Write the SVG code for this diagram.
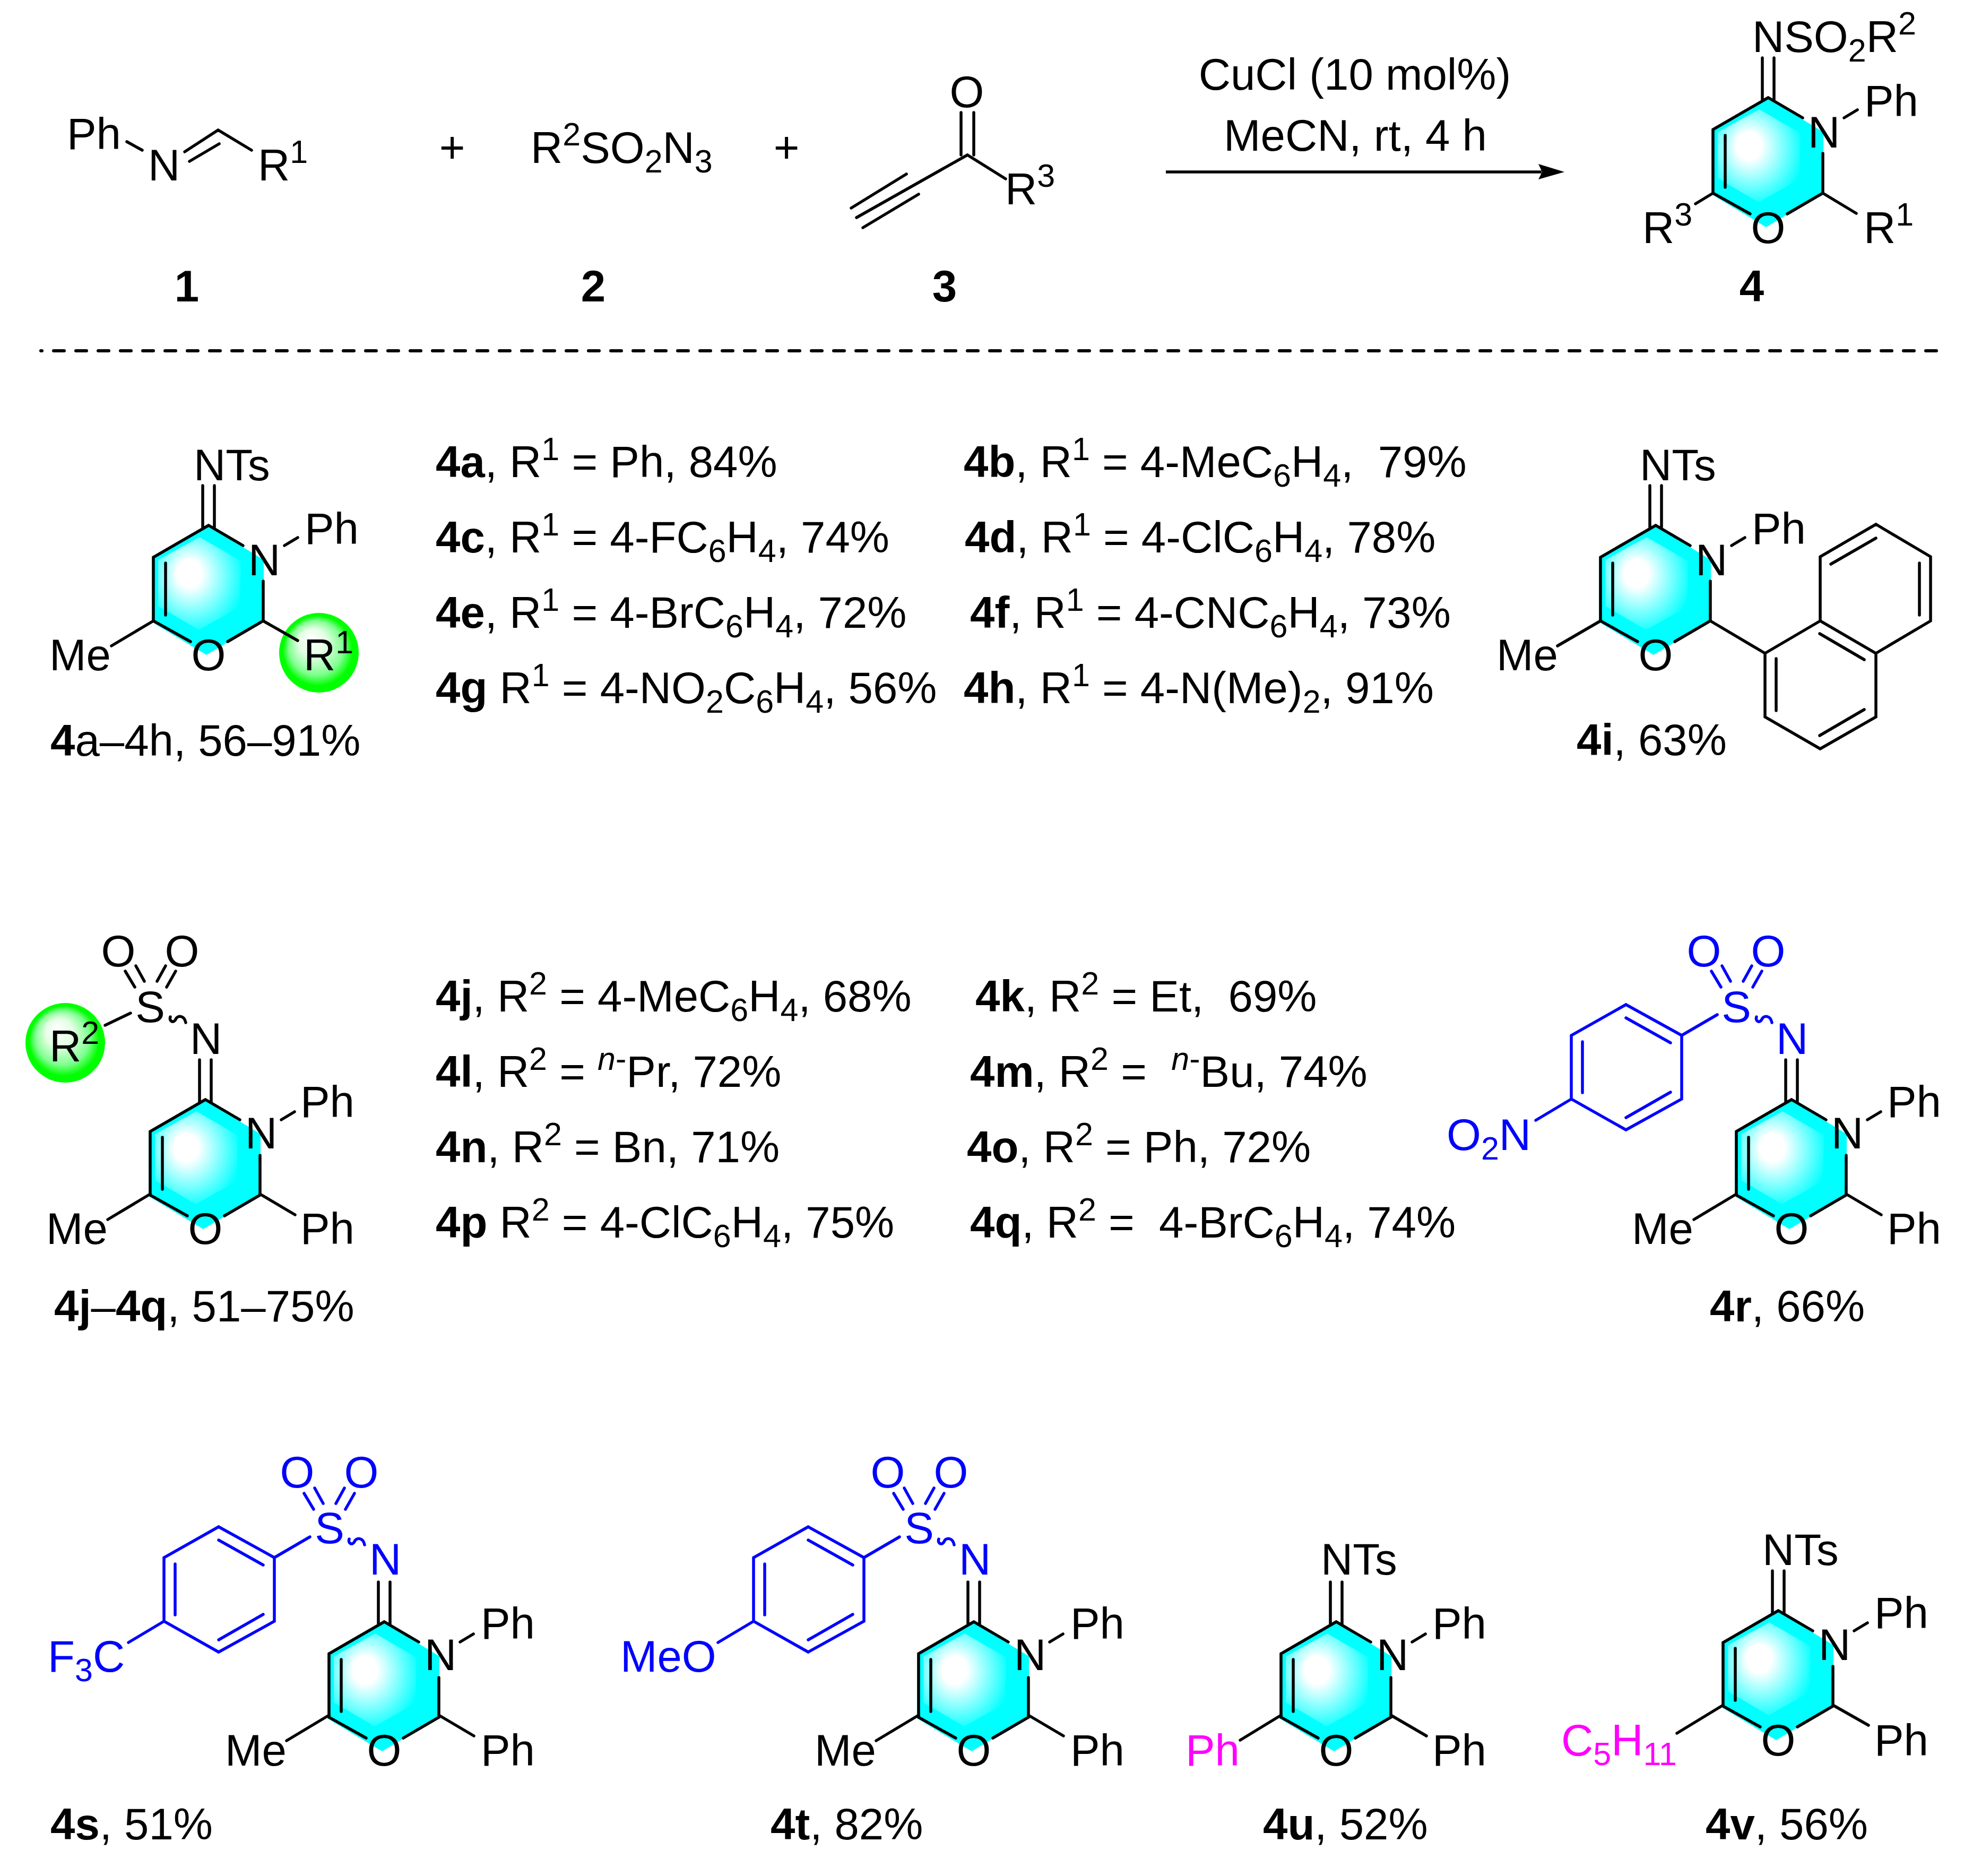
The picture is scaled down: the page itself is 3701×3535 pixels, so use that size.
<svg xmlns="http://www.w3.org/2000/svg" xmlns:xlink="http://www.w3.org/1999/xlink" width="3701" height="3535" viewBox="0 0 3701 3535">
<style>
text{font-family:"Liberation Sans",Arial,sans-serif;font-size:83.4px;fill:#000}
.bd{font-weight:bold}
.u,.d{font-size:61px}
.it{font-style:italic}
.m{text-anchor:middle}
.bl,.bl text{fill:#00f}
.mg{fill:#f0f}
.b{fill:none;stroke:#000;stroke-width:5.5;stroke-linecap:round;stroke-linejoin:miter}
.c{fill:none;stroke:#00f;stroke-width:5.5;stroke-linecap:round;stroke-linejoin:miter}
</style>
<defs>
<radialGradient id="gc" cx=".43" cy=".44" r=".62" fx=".36" fy=".38">
<stop offset="0" stop-color="#fff"/><stop offset=".24" stop-color="#fff"/><stop offset="1" stop-color="#0ff"/>
</radialGradient>
<radialGradient id="gg" cx=".5" cy=".5" r=".5" fx=".38" fy=".3">
<stop offset="0" stop-color="#fff"/><stop offset=".35" stop-color="#e4ffe4"/><stop offset=".68" stop-color="#80ff90"/><stop offset=".88" stop-color="#0f0"/><stop offset="1" stop-color="#0f0"/>
</radialGradient>
<g id="ring">
<polygon points="-2,0 104,65 104,180 -4,244 -107,182 -107,60" fill="#0ff"/>
<polygon points="-17,22 61,67 59,154 -18,197 -95,152 -95,65" fill="url(#gc)"/>
<path class="b" d="M103,105V180L36,219M-34,219L-104,180V60L0,0L65,38M-81,71V169M-11,-75V4M11,-75V4"/>
</g>
<path id="so2" class="c" d="M-151,-242L-133,-212M-131,-252L-115,-223M-91,-223L-75,-252M-73,-212L-56,-242M-66,-156C-69,-148 -60,-143 -56,-151C-53,-159 -40,-160 -37,-145"/>
<path id="aryl" class="c" d="M-207,-121L-312,-179L-415,-121V-1L-312,57L-207,-1ZM-312,-154L-228,-107M-394,-109V-13M-312,34L-228,-14M-207,-121L-140,-160M-415,-1L-482,39"/>
</defs>
<rect width="3701" height="3535" fill="#fff"/>

<g id="connectors">
<path d="M77,661H3650" fill="none" stroke="#000" stroke-width="6" stroke-linecap="round" stroke-dasharray="20 22" stroke-dashoffset="18"/>
<path d="M2197,324H2905" fill="none" stroke="#000" stroke-width="5.5"/>
<polygon points="2948,324 2899,338 2906,324 2899,309" fill="#000"/>
</g>

<g id="compound-1">
<path class="b" d="M239,267L268,283M348,286L411,245L474,283M357,304L413,271"/>
<text x="126" y="281">Ph</text>
<text x="279" y="340">N</text>
<text x="486" y="340">R<tspan class="u" dy="-33">1</tspan></text>
<text class="bd m" x="352" y="568">1</text>
</g>
<g id="plus-1"><text class="m" x="852" y="306">+</text></g>
<g id="compound-2">
<text x="1000" y="307">R<tspan class="u" dy="-33">2</tspan><tspan dy="33">SO</tspan><tspan class="d" dy="18">2</tspan><tspan dy="-18">N</tspan><tspan class="d" dy="18">3</tspan></text>
<text class="bd m" x="1118" y="568">2</text>
</g>
<g id="plus-2"><text class="m" x="1482" y="306">+</text></g>
<g id="compound-3">
<path class="b" d="M1811,212V292M1835,212V292M1895,337L1823,292L1614,410M1708,328L1604,392M1731,366L1626,429"/>
<text class="m" x="1822" y="202">O</text>
<text x="1894" y="385">R<tspan class="u" dy="-33">3</tspan></text>
<text class="bd m" x="1780" y="568">3</text>
</g>
<g id="conditions">
<text class="m" x="2553" y="169">CuCl (10 mol%)</text>
<text class="m" x="2554" y="284">MeCN, rt, 4 h</text>
</g>
<g id="compound-4" transform="translate(3332,184)">
<use href="#ring"/>
<path class="b" d="M143,38L168,23M-104,180L-137,200M103,180L166,218"/>
<text x="-30" y="-86">NSO<tspan class="d" dy="18">2</tspan><tspan dy="-18">R</tspan><tspan class="u" dy="-33">2</tspan></text>
<text x="75" y="94">N</text><text x="181" y="35">Ph</text>
<text class="m" y="274">O</text>
<text x="-237" y="274">R<tspan class="u" dy="-33">3</tspan></text>
<text x="180" y="274">R<tspan class="u" dy="-33">1</tspan></text>
<text class="bd m" x="-31" y="384">4</text>
</g>

<g id="compound-4a-h" transform="translate(393,990)">
<circle cx="208" cy="240" r="75" fill="url(#gg)"/>
<use href="#ring"/>
<path class="b" d="M143,38L168,23M-104,180L-183,227M103,180L168,217"/>
<text x="-28" y="-85">NTs</text><text x="75" y="94">N</text><text x="181" y="35">Ph</text>
<text class="m" y="273">O</text><text x="-300" y="273">Me</text>
<text x="179" y="273">R<tspan class="u" dy="-32">1</tspan></text>
<text x="-298" y="434"><tspan class="bd">4</tspan>a–4h, 56–91%</text>
</g>

<g id="table-1">
<text x="821" y="899"><tspan class="bd">4a</tspan>, R<tspan class="u" dy="-32">1</tspan><tspan dy="32"> = Ph, 84%</tspan></text>
<text x="1816" y="899"><tspan class="bd">4b</tspan>, R<tspan class="u" dy="-32">1</tspan><tspan dy="32"> = 4-MeC</tspan><tspan class="d" dy="18">6</tspan><tspan dy="-18">H</tspan><tspan class="d" dy="18">4</tspan><tspan dy="-18">,&#160; 79%</tspan></text>
<text x="821" y="1041"><tspan class="bd">4c</tspan>, R<tspan class="u" dy="-32">1</tspan><tspan dy="32"> = 4-FC</tspan><tspan class="d" dy="18">6</tspan><tspan dy="-18">H</tspan><tspan class="d" dy="18">4</tspan><tspan dy="-18">, 74%</tspan></text>
<text x="1818" y="1041"><tspan class="bd">4d</tspan>, R<tspan class="u" dy="-32">1</tspan><tspan dy="32"> = 4-ClC</tspan><tspan class="d" dy="18">6</tspan><tspan dy="-18">H</tspan><tspan class="d" dy="18">4</tspan><tspan dy="-18">, 78%</tspan></text>
<text x="821" y="1183"><tspan class="bd">4e</tspan>, R<tspan class="u" dy="-32">1</tspan><tspan dy="32"> = 4-BrC</tspan><tspan class="d" dy="18">6</tspan><tspan dy="-18">H</tspan><tspan class="d" dy="18">4</tspan><tspan dy="-18">, 72%</tspan></text>
<text x="1828" y="1183"><tspan class="bd">4f</tspan>, R<tspan class="u" dy="-32">1</tspan><tspan dy="32"> = 4-CNC</tspan><tspan class="d" dy="18">6</tspan><tspan dy="-18">H</tspan><tspan class="d" dy="18">4</tspan><tspan dy="-18">, 73%</tspan></text>
<text x="821" y="1325"><tspan class="bd">4g</tspan> R<tspan class="u" dy="-32">1</tspan><tspan dy="32"> = 4-NO</tspan><tspan class="d" dy="18">2</tspan><tspan dy="-18">C</tspan><tspan class="d" dy="18">6</tspan><tspan dy="-18">H</tspan><tspan class="d" dy="18">4</tspan><tspan dy="-18">, 56%</tspan></text>
<text x="1816" y="1325"><tspan class="bd">4h</tspan>, R<tspan class="u" dy="-32">1</tspan><tspan dy="32"> = 4-N(Me)</tspan><tspan class="d" dy="18">2</tspan><tspan dy="-18">, 91%</tspan></text>
</g>

<g id="compound-4i" transform="translate(3120,990)">
<use href="#ring"/>
<path class="b" d="M143,38L168,23M-104,180L-185,227M103,180L206,241V361L310,421L415,361V241L310,180V59L415,-2L518,59V180L415,241M206,241L310,180M227,251V349M309,396L393,347M309,204L393,253M330,73L415,24M497,71V169"/>
<text x="-30" y="-85">NTs</text><text x="75" y="94">N</text><text x="181" y="35">Ph</text>
<text class="m" y="273">O</text><text x="-300" y="273">Me</text>
<text x="-149" y="433"><tspan class="bd">4i</tspan>, 63%</text>
</g>

<g id="compound-4j-q" transform="translate(387,2072)">
<circle cx="-264" cy="-107" r="75" fill="url(#gg)"/>
<use href="#ring"/>
<path class="b" d="M143,38L168,23M-104,178L-184,226M103,178L169,217M-189,-140L-141,-163"/>
<path class="b" d="M-151,-242L-133,-212M-131,-252L-115,-223M-91,-223L-75,-252M-73,-212L-56,-242M-66,-156C-69,-148 -60,-143 -56,-151C-53,-159 -40,-160 -37,-145"/>
<text x="-29" y="-86">N</text><text x="75" y="92">N</text><text x="179" y="33">Ph</text>
<text class="m" x="-104" y="-146">S</text><text class="m" x="-164" y="-251">O</text><text class="m" x="-44" y="-251">O</text>
<text class="m" y="272">O</text><text x="-300" y="272">Me</text><text x="179" y="272">Ph</text>
<text x="-294" y="-72">R<tspan class="u" dy="-33">2</tspan></text>
<text x="-285" y="418"><tspan class="bd">4j</tspan>–<tspan class="bd">4q</tspan>, 51–75%</text>
</g>

<g id="table-2">
<text x="821" y="1906"><tspan class="bd">4j</tspan>, R<tspan class="u" dy="-32">2</tspan><tspan dy="32"> = 4-MeC</tspan><tspan class="d" dy="18">6</tspan><tspan dy="-18">H</tspan><tspan class="d" dy="18">4</tspan><tspan dy="-18">, 68%</tspan></text>
<text x="1838" y="1906"><tspan class="bd">4k</tspan>, R<tspan class="u" dy="-32">2</tspan><tspan dy="32"> = Et,&#160; 69%</tspan></text>
<text x="821" y="2048"><tspan class="bd">4l</tspan>, R<tspan class="u" dy="-32">2</tspan><tspan dy="32"> = </tspan><tspan class="u it" dy="-32">n</tspan><tspan class="u">-</tspan><tspan dy="32">Pr, 72%</tspan></text>
<text x="1828" y="2048"><tspan class="bd">4m</tspan>, R<tspan class="u" dy="-32">2</tspan><tspan dy="32"> =&#160; </tspan><tspan class="u it" dy="-32">n</tspan><tspan class="u">-</tspan><tspan dy="32">Bu, 74%</tspan></text>
<text x="821" y="2190"><tspan class="bd">4n</tspan>, R<tspan class="u" dy="-32">2</tspan><tspan dy="32"> = Bn, 71%</tspan></text>
<text x="1822" y="2190"><tspan class="bd">4o</tspan>, R<tspan class="u" dy="-32">2</tspan><tspan dy="32"> = Ph, 72%</tspan></text>
<text x="821" y="2332"><tspan class="bd">4p</tspan> R<tspan class="u" dy="-32">2</tspan><tspan dy="32"> = 4-ClC</tspan><tspan class="d" dy="18">6</tspan><tspan dy="-18">H</tspan><tspan class="d" dy="18">4</tspan><tspan dy="-18">, 75%</tspan></text>
<text x="1828" y="2332"><tspan class="bd">4q</tspan>, R<tspan class="u" dy="-32">2</tspan><tspan dy="32"> =&#160; 4-BrC</tspan><tspan class="d" dy="18">6</tspan><tspan dy="-18">H</tspan><tspan class="d" dy="18">4</tspan><tspan dy="-18">, 74%</tspan></text>
</g>

<g id="compound-4r" transform="translate(3376,2072)">
<use href="#ring"/>
<use href="#aryl"/><use href="#so2"/>
<path class="b" d="M143,38L168,23M-104,178L-184,226M103,178L169,217"/>
<g class="bl">
<text x="-29" y="-86">N</text>
<text class="m" x="-104" y="-146">S</text><text class="m" x="-165" y="-251">O</text><text class="m" x="-44" y="-251">O</text>
<text x="-650" y="95">O<tspan class="d" dy="18">2</tspan><tspan dy="-18">N</tspan></text>
</g>
<text x="75" y="92">N</text><text x="180" y="33">Ph</text>
<text class="m" y="272">O</text><text x="-301" y="272">Me</text><text x="180" y="272">Ph</text>
<text x="-154" y="418"><tspan class="bd">4r</tspan>, 66%</text>
</g>

<g id="compound-4s" transform="translate(724,3056)">
<use href="#ring"/>
<use href="#aryl"/><use href="#so2"/>
<path class="b" d="M143,38L168,23M-104,176L-184,224M103,176L169,215"/>
<g class="bl">
<text x="-28" y="-89">N</text>
<text class="m" x="-103" y="-148">S</text><text class="m" x="-164" y="-253">O</text><text class="m" x="-43" y="-253">O</text>
<text x="-634" y="94">F<tspan class="d" dy="18">3</tspan><tspan dy="-18">C</tspan></text>
</g>
<text x="76" y="91">N</text><text x="182" y="32">Ph</text>
<text class="m" y="271">O</text><text x="-300" y="271">Me</text><text x="182" y="271">Ph</text>
<text x="-629" y="410"><tspan class="bd">4s</tspan>, 51%</text>
</g>

<g id="compound-4t" transform="translate(1835,3056)">
<use href="#ring"/>
<use href="#aryl"/><use href="#so2"/>
<path class="b" d="M143,38L168,23M-104,176L-184,224M103,176L169,215"/>
<g class="bl">
<text x="-28" y="-89">N</text>
<text class="m" x="-103" y="-148">S</text><text class="m" x="-162" y="-253">O</text><text class="m" x="-43" y="-253">O</text>
<text x="-666" y="94">MeO</text>
</g>
<text x="76" y="91">N</text><text x="182" y="32">Ph</text>
<text class="m" y="271">O</text><text x="-300" y="271">Me</text><text x="182" y="271">Ph</text>
<text x="-383" y="410"><tspan class="bd">4t</tspan>, 82%</text>
</g>

<g id="compound-4u" transform="translate(2518,3056)">
<use href="#ring"/>
<path class="b" d="M143,38L168,23M-104,176L-181,223M103,176L170,215"/>
<text x="-29" y="-89">NTs</text>
<text x="76" y="91">N</text><text x="181" y="32">Ph</text>
<text class="m" y="271">O</text><text class="mg" x="-284" y="271">Ph</text><text x="181" y="271">Ph</text>
<text x="-138" y="410"><tspan class="bd">4u</tspan>, 52%</text>
</g>

<g id="compound-4v" transform="translate(3351,3035)">
<use href="#ring"/>
<path class="b" d="M143,38L168,23M-104,178L-191,231M103,178L170,216"/>
<text x="-30" y="-86">NTs</text>
<text x="76" y="93">N</text><text x="181" y="33">Ph</text>
<text class="m" y="273">O</text><text x="181" y="273">Ph</text>
<text class="mg" x="-409" y="273">C<tspan class="d mg" dy="18">5</tspan><tspan class="mg" dy="-18">H</tspan><tspan class="d mg" dy="18">11</tspan></text>
<text x="-137" y="431"><tspan class="bd">4v</tspan>, 56%</text>
</g>
</svg>
